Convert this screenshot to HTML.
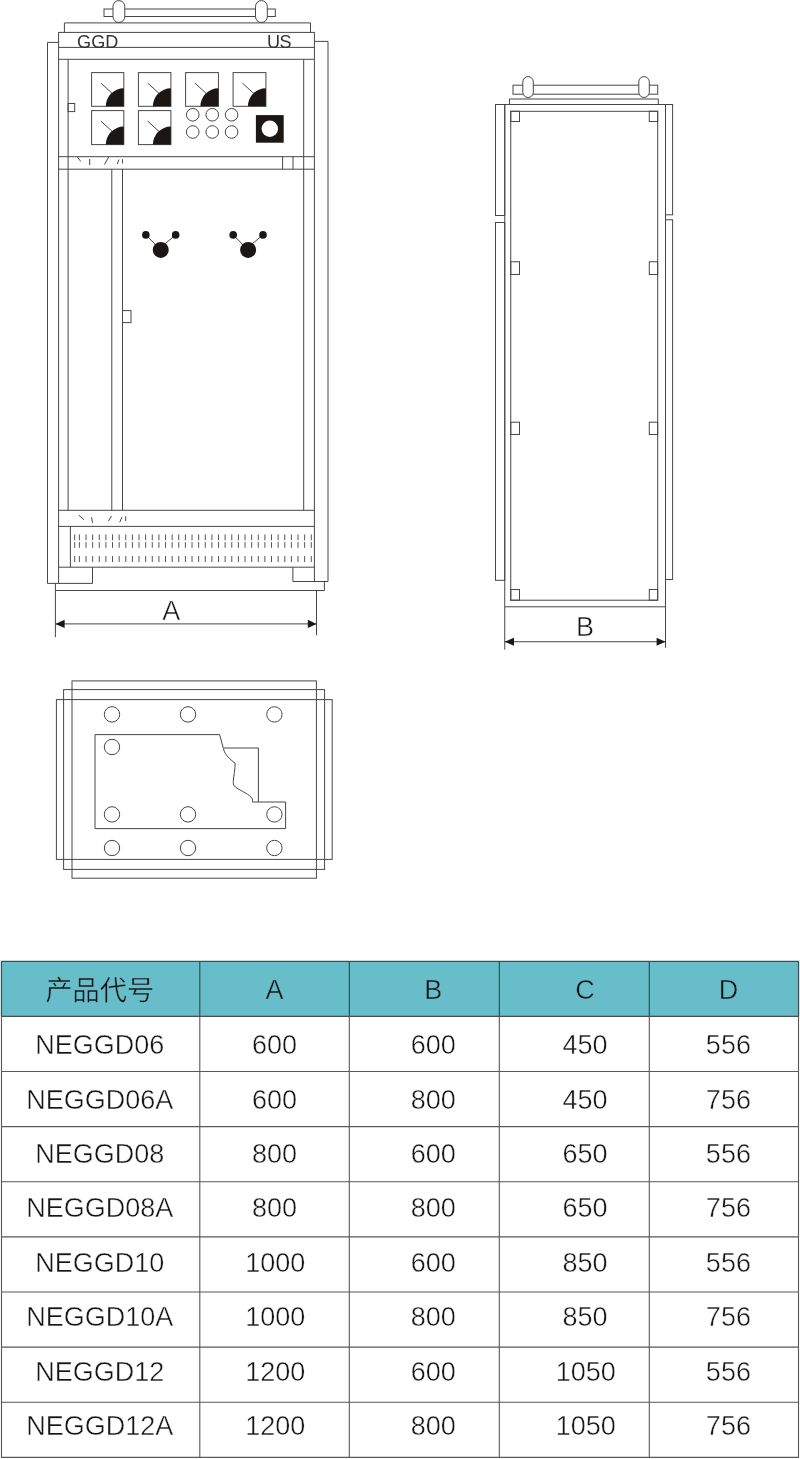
<!DOCTYPE html>
<html lang="zh-CN">
<head>
<meta charset="utf-8">
<title>GGD</title>
<style>
html,body{margin:0;padding:0;background:#fff;}
body{width:800px;height:1459px;position:relative;overflow:hidden;font-family:"Liberation Sans","Noto Sans CJK SC",sans-serif;}
.tbl{position:absolute;left:0;top:0;width:800px;height:1459px;will-change:transform;}
svg{will-change:transform;}
.r{position:absolute;left:0;width:800px;height:40px;line-height:40px;font-size:27.0px;color:#161616;-webkit-text-stroke:0.42px #fff;paint-order:fill stroke;}
.r.h{-webkit-text-stroke:0.42px #68bdca;}
.r span{position:absolute;top:0;width:200px;margin-left:-100px;text-align:center;white-space:nowrap;}
.c1{left:99.8px} .c2{left:274.6px} .c3{left:433.3px} .c4{left:585px} .c5{left:728.4px}
.w4{margin-left:-99.3px !important}
.zh{font-size:27.2px;left:99.8px;top:1px !important;}
</style>
</head>
<body>
<svg width="800" height="1459" viewBox="0 0 800 1459" style="position:absolute;left:0;top:0" fill="none" stroke="#464646" stroke-width="1">
<rect x="104" y="9" width="171.3" height="7.5" />
<rect x="113" y="0.6" width="11.8" height="21.9" rx="5.9" ry="5.9" fill="#fff"/>
<rect x="255.5" y="0.6" width="11.8" height="21.9" rx="5.9" ry="5.9" fill="#fff"/>
<polyline points="64.4,32.4 64.4,22.9 310.5,22.9 310.5,32.4"/>
<rect x="58.6" y="32.4" width="255.8" height="26.9" />
<line x1="58.6" y1="47.4" x2="314.4" y2="47.4" />
<polyline points="58.6,42.4 47.5,42.4 47.5,583.4 92.5,583.4 92.5,567.2"/>
<polyline points="314.4,41.4 328,41.4 328,581.5 292.9,581.5 292.9,567.2"/>
<line x1="58.6" y1="59.3" x2="58.6" y2="583.4" />
<line x1="314.4" y1="59.3" x2="314.4" y2="581.5" />
<line x1="68.1" y1="59.3" x2="68.1" y2="510.3" />
<line x1="303.7" y1="59.3" x2="303.7" y2="510.3" />
<line x1="58.6" y1="156.7" x2="314.4" y2="156.7" />
<line x1="58.6" y1="169.2" x2="314.4" y2="169.2" />
<line x1="58.6" y1="510.3" x2="314.4" y2="510.3" />
<line x1="58.6" y1="526.4" x2="314.4" y2="526.4" />
<line x1="58.6" y1="567.2" x2="314.4" y2="567.2" />
<line x1="111.8" y1="169.1" x2="111.8" y2="510.3" />
<line x1="122.5" y1="169.1" x2="122.5" y2="510.3" />
<line x1="70.4" y1="526.4" x2="70.4" y2="567.2" />
<rect x="68.1" y="103.5" width="6.6" height="8.1" />
<rect x="122.5" y="310.6" width="8.5" height="12.0" />
<line x1="282.6" y1="156.6" x2="282.6" y2="169.1" />
<line x1="293" y1="156.6" x2="293" y2="169.1" />
<rect x="91.6" y="72.6" width="32.2" height="33.7" /><path d="M105.8,106.3 A18,18 0 0 1 123.8,88.3 L123.8,106.3 Z" fill="#1a1715" stroke="none"/><line x1="100.9" y1="83.1" x2="112.2" y2="93.4" />
<rect x="138.4" y="72.6" width="32.5" height="33.7" /><path d="M152.9,106.3 A18,18 0 0 1 170.9,88.3 L170.9,106.3 Z" fill="#1a1715" stroke="none"/><line x1="147.7" y1="83.1" x2="159.0" y2="93.4" />
<rect x="185.6" y="72.6" width="32.8" height="33.7" /><path d="M200.4,106.3 A18,18 0 0 1 218.4,88.3 L218.4,106.3 Z" fill="#1a1715" stroke="none"/><line x1="194.9" y1="83.1" x2="206.2" y2="93.4" />
<rect x="233.1" y="72.6" width="32.8" height="33.7" /><path d="M247.89999999999998,106.3 A18,18 0 0 1 265.9,88.3 L265.9,106.3 Z" fill="#1a1715" stroke="none"/><line x1="242.4" y1="83.1" x2="253.7" y2="93.4" />
<rect x="91.6" y="110.6" width="32.2" height="34.0" /><path d="M105.8,144.6 A18,18 0 0 1 123.8,126.6 L123.8,144.6 Z" fill="#1a1715" stroke="none"/><line x1="100.9" y1="121.1" x2="112.2" y2="131.4" />
<rect x="138.4" y="110.6" width="32.5" height="34.0" /><path d="M152.9,144.6 A18,18 0 0 1 170.9,126.6 L170.9,144.6 Z" fill="#1a1715" stroke="none"/><line x1="147.7" y1="121.1" x2="159.0" y2="131.4" />
<circle cx="192.75" cy="114.75" r="6.3" />
<circle cx="192.75" cy="132" r="6.3" />
<circle cx="212.25" cy="114.75" r="6.3" />
<circle cx="212.25" cy="132" r="6.3" />
<circle cx="231.6" cy="114.75" r="6.3" />
<circle cx="231.6" cy="132" r="6.3" />
<rect x="255.9" y="115.1" width="27.8" height="27.6" fill="#1a1715" stroke="none"/>
<circle cx="269.8" cy="128.8" r="8.2" fill="#fff" stroke="none"/>
<line x1="77.2" y1="156.8" x2="80.8" y2="161.5" />
<line x1="89.7" y1="159" x2="89.7" y2="165" />
<line x1="108.8" y1="156.8" x2="104.5" y2="164.5" />
<line x1="119" y1="159.5" x2="117.2" y2="164" />
<line x1="122.5" y1="159.2" x2="122.5" y2="163.5" />
<line x1="79" y1="515.3" x2="84" y2="519.6" />
<line x1="91.6" y1="517.2" x2="92.5" y2="522.8" />
<line x1="111.6" y1="515.9" x2="108.4" y2="521" />
<line x1="122" y1="517.2" x2="119.7" y2="522.3" />
<line x1="125.7" y1="516.3" x2="125.7" y2="521" />
<line x1="145.85" y1="234.9" x2="160.75" y2="249.9" />
<line x1="175.65" y1="234.9" x2="163.75" y2="244.8" />
<circle cx="160.75" cy="249.9" r="8" fill="#1a1715" stroke="none"/>
<circle cx="145.85" cy="234.9" r="3.8" fill="#1a1715" stroke="none"/>
<circle cx="175.65" cy="234.9" r="3.8" fill="#1a1715" stroke="none"/>
<line x1="233.2" y1="234.9" x2="248.1" y2="249.9" />
<line x1="263.0" y1="234.9" x2="251.1" y2="244.8" />
<circle cx="248.1" cy="249.9" r="8" fill="#1a1715" stroke="none"/>
<circle cx="233.2" cy="234.9" r="3.8" fill="#1a1715" stroke="none"/>
<circle cx="263.0" cy="234.9" r="3.8" fill="#1a1715" stroke="none"/>
<path d="M74.7,534.4V540.3M74.7,542.1V547.8M74.7,556V562M79.4,534.4V540.3M79.4,542.1V547.8M79.4,556V562M86.03,534.4V540.3M86.03,542.1V547.8M86.03,556V562M92.65,534.4V540.3M92.65,542.1V547.8M92.65,556V562M99.28,534.4V540.3M99.28,542.1V547.8M99.28,556V562M105.9,534.4V540.3M105.9,542.1V547.8M105.9,556V562M112.53,534.4V540.3M112.53,542.1V547.8M112.53,556V562M119.15,534.4V540.3M119.15,542.1V547.8M119.15,556V562M125.78,534.4V540.3M125.78,542.1V547.8M125.78,556V562M132.4,534.4V540.3M132.4,542.1V547.8M132.4,556V562M139.03,534.4V540.3M139.03,542.1V547.8M139.03,556V562M145.65,534.4V540.3M145.65,542.1V547.8M145.65,556V562M152.28,534.4V540.3M152.28,542.1V547.8M152.28,556V562M158.9,534.4V540.3M158.9,542.1V547.8M158.9,556V562M165.53,534.4V540.3M165.53,542.1V547.8M165.53,556V562M172.15,534.4V540.3M172.15,542.1V547.8M172.15,556V562M178.78,534.4V540.3M178.78,542.1V547.8M178.78,556V562M185.4,534.4V540.3M185.4,542.1V547.8M185.4,556V562M192.03,534.4V540.3M192.03,542.1V547.8M192.03,556V562M198.65,534.4V540.3M198.65,542.1V547.8M198.65,556V562M205.28,534.4V540.3M205.28,542.1V547.8M205.28,556V562M211.9,534.4V540.3M211.9,542.1V547.8M211.9,556V562M218.53,534.4V540.3M218.53,542.1V547.8M218.53,556V562M225.15,534.4V540.3M225.15,542.1V547.8M225.15,556V562M231.78,534.4V540.3M231.78,542.1V547.8M231.78,556V562M238.4,534.4V540.3M238.4,542.1V547.8M238.4,556V562M245.03,534.4V540.3M245.03,542.1V547.8M245.03,556V562M251.65,534.4V540.3M251.65,542.1V547.8M251.65,556V562M258.27,534.4V540.3M258.27,542.1V547.8M258.27,556V562M264.9,534.4V540.3M264.9,542.1V547.8M264.9,556V562M271.52,534.4V540.3M271.52,542.1V547.8M271.52,556V562M278.15,534.4V540.3M278.15,542.1V547.8M278.15,556V562M284.77,534.4V540.3M284.77,542.1V547.8M284.77,556V562M291.4,534.4V540.3M291.4,542.1V547.8M291.4,556V562M298.02,534.4V540.3M298.02,542.1V547.8M298.02,556V562M304.65,534.4V540.3M304.65,542.1V547.8M304.65,556V562M311.27,534.4V540.3M311.27,542.1V547.8M311.27,556V562" stroke="#555"/>
<polyline points="55.4,583.4 55.4,637.2"/>
<polyline points="55.4,590.5 324.4,590.5 324.4,581.5"/>
<line x1="316.5" y1="590.5" x2="316.5" y2="635.3" />
<line x1="55.4" y1="623.9" x2="316.5" y2="623.9" />
<path d="M55.4,623.9 L64.6,619.8 L64.6,628 Z" fill="#1a1715" stroke="none"/>
<path d="M316.5,623.9 L307.8,619.8 L307.8,628 Z" fill="#1a1715" stroke="none"/>
<rect x="513" y="85.2" width="144.7" height="9.0" />
<rect x="522.8" y="76.6" width="10.5" height="20.9" rx="5.25" fill="#fff"/>
<rect x="638.8" y="76.6" width="10.5" height="20.9" rx="5.25" fill="#fff"/>
<polyline points="509.5,104.5 509.5,99 658.3,99 658.3,104.5"/>
<line x1="495.5" y1="104.5" x2="672.6" y2="104.5" />
<rect x="495.5" y="104.5" width="9.25" height="111.0" />
<rect x="495.5" y="222.5" width="9.25" height="357.8" />
<rect x="665.5" y="104.5" width="7.1" height="110.3" />
<rect x="665.5" y="219.8" width="7.1" height="359.7" />
<line x1="504.75" y1="104.5" x2="504.75" y2="649.7" />
<line x1="665.5" y1="104.5" x2="665.5" y2="647.8" />
<rect x="510.75" y="111.3" width="146.95" height="488.9" />
<line x1="504.75" y1="606.8" x2="665.5" y2="606.8" />
<rect x="510.75" y="111.3" width="8.75" height="10.2" />
<rect x="649.3" y="111.3" width="8.4" height="10.2" />
<rect x="510.75" y="261.75" width="8.75" height="12.75" />
<rect x="649.3" y="261.75" width="8.4" height="12.75" />
<rect x="510.75" y="422.2" width="8.75" height="12.3" />
<rect x="649.3" y="422.2" width="8.4" height="12.3" />
<rect x="510.75" y="589.5" width="8.75" height="10.7" />
<rect x="649.3" y="589.5" width="8.4" height="10.7" />
<line x1="504.75" y1="641.75" x2="665.5" y2="641.75" />
<path d="M504.75,641.75 L514,637.7 L514,645.8 Z" fill="#1a1715" stroke="none"/>
<path d="M665.5,641.75 L656.6,637.7 L656.6,645.8 Z" fill="#1a1715" stroke="none"/>
<rect x="72" y="680.9" width="244.4" height="197.3" />
<rect x="63.6" y="689.6" width="261.0" height="179.8" />
<rect x="56.4" y="699.6" width="275.8" height="159.8" />
<circle cx="112" cy="714.4" r="7.7" />
<circle cx="112" cy="814.4" r="7.7" />
<circle cx="112" cy="848" r="7.7" />
<circle cx="188" cy="714.4" r="7.7" />
<circle cx="188" cy="814.4" r="7.7" />
<circle cx="188" cy="848" r="7.7" />
<circle cx="274.4" cy="714.4" r="7.7" />
<circle cx="274.4" cy="814.4" r="7.7" />
<circle cx="274.4" cy="848" r="7.7" />
<circle cx="112" cy="747" r="7.7" />
<path d="M219.6,734.6 H95 V828.6 H285.6 V802 H252.5 C252.5,801 252.6,799.7 252.2,798.7 C251,796.5 248,794.5 245.5,793 C242,791 236,788 234,785.7 C233.2,784.8 233.2,783.5 233.3,781.2 C233.6,776 235.3,769 235.1,763.2 C233,761.5 231,760 229.2,758.2 C226,755 224,752 223.4,748.5 Z"/>
<polyline points="224,748 258.4,748 258.4,802"/>
<rect x="0" y="961.4" width="800" height="55.0" fill="#dfe9ea" stroke="none"/>
<rect x="1.5" y="961.4" width="797" height="55.0" fill="#68bdca" stroke="none"/>
<path d="M1,961.4H799M1,1016.4H799M1,1071.53H799M1,1126.65H799M1,1181.78H799M1,1236.9H799M1,1292.03H799M1,1347.15H799M1,1402.28H799M1,1457.4H799M1.5,961.4V1457.4M199.8,961.4V1457.4M349.3,961.4V1457.4M499.3,961.4V1457.4M649.3,961.4V1457.4M798.5,961.4V1457.4" stroke="#1e1e1e" stroke-opacity="0.74" stroke-width="1.1"/>
<g font-family="'Liberation Sans', sans-serif" fill="#333" stroke="none">
<text x="77.1" y="48.1" font-size="18.1">GGD</text>
<text x="267" y="48.1" font-size="18.1" letter-spacing="-0.5">US</text>
</g>
<g font-family="'Liberation Sans', sans-serif" fill="#161616" stroke="#fff" stroke-width="0.42">
<text x="162.2" y="619.9" font-size="27">A</text>
<text x="576" y="636" font-size="27">B</text>
</g>
</svg>
<div class="tbl" role="table">
<div class="r h" role="row" style="top:970.24px"><span class="c1 zh" role="columnheader">产品代号</span><span class="c2" role="columnheader">A</span><span class="c3" role="columnheader">B</span><span class="c4" role="columnheader">C</span><span class="c5" role="columnheader">D</span></div>
<div class="r" role="row" style="top:1025.14px"><span class="c1" role="cell">NEGGD06</span><span class="c2" role="cell">600</span><span class="c3" role="cell">600</span><span class="c4" role="cell">450</span><span class="c5" role="cell">556</span></div>
<div class="r" role="row" style="top:1079.59px"><span class="c1" role="cell">NEGGD06A</span><span class="c2" role="cell">600</span><span class="c3" role="cell">800</span><span class="c4" role="cell">450</span><span class="c5" role="cell">756</span></div>
<div class="r" role="row" style="top:1134.04px"><span class="c1" role="cell">NEGGD08</span><span class="c2" role="cell">800</span><span class="c3" role="cell">600</span><span class="c4" role="cell">650</span><span class="c5" role="cell">556</span></div>
<div class="r" role="row" style="top:1188.49px"><span class="c1" role="cell">NEGGD08A</span><span class="c2" role="cell">800</span><span class="c3" role="cell">800</span><span class="c4" role="cell">650</span><span class="c5" role="cell">756</span></div>
<div class="r" role="row" style="top:1242.94px"><span class="c1" role="cell">NEGGD10</span><span class="c2 w4" role="cell">1000</span><span class="c3" role="cell">600</span><span class="c4" role="cell">850</span><span class="c5" role="cell">556</span></div>
<div class="r" role="row" style="top:1297.39px"><span class="c1" role="cell">NEGGD10A</span><span class="c2 w4" role="cell">1000</span><span class="c3" role="cell">800</span><span class="c4" role="cell">850</span><span class="c5" role="cell">756</span></div>
<div class="r" role="row" style="top:1351.84px"><span class="c1" role="cell">NEGGD12</span><span class="c2 w4" role="cell">1200</span><span class="c3" role="cell">600</span><span class="c4 w4" role="cell">1050</span><span class="c5" role="cell">556</span></div>
<div class="r" role="row" style="top:1406.29px"><span class="c1" role="cell">NEGGD12A</span><span class="c2 w4" role="cell">1200</span><span class="c3" role="cell">800</span><span class="c4 w4" role="cell">1050</span><span class="c5" role="cell">756</span></div>
</div>
</body>
</html>
